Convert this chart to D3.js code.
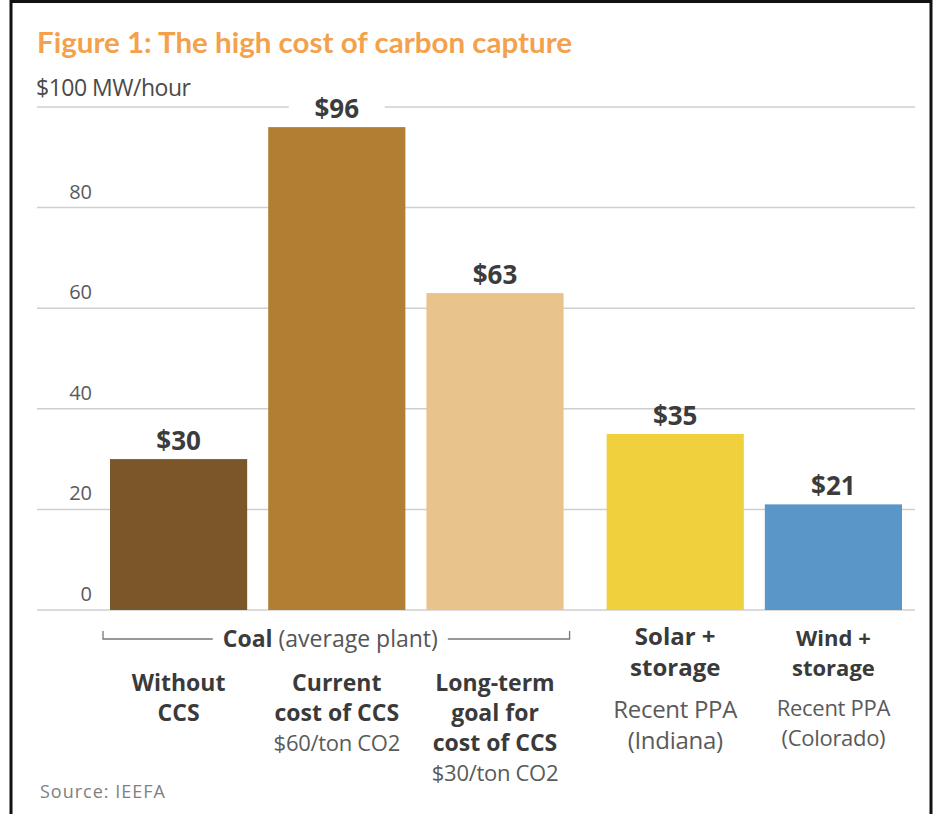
<!DOCTYPE html>
<html>
<head>
<meta charset="utf-8">
<script src="https://cdn.jsdelivr.net/npm/d3@7"></script>
<style>
  html, body { margin: 0; padding: 0; background: #fff; }
  svg { display: block; }
</style>
</head>
<body>
<div id="chart"></div>
<script>
// --- data ---
const categories = ["Without CCS", "Current cost of CCS", "Long-term goal for cost of CCS", "Solar + storage", "Wind + storage"];
const values = [30, 96, 63, 35, 21];
const groups = ["coal", "coal", "coal", "renew", "renew"];
const barColors = ["#7a5628", "#b07f34", "#e8c48c", "#f0d03c", "#5b96c9"];
const boldLines = [["Without", "CCS"], ["Current", "cost of CCS"], ["Long-term", "goal for", "cost of CCS"], ["Solar +", "storage"], ["Wind +", "storage"]];
const subLines = [[], ["$60/ton CO2"], ["$30/ton CO2"], ["Recent PPA", "(Indiana)"], ["Recent PPA", "(Colorado)"]];
const yTicks = [0, 20, 40, 60, 80];
const topTickLabel = "$100 MW/hour";
const title = "Figure 1: The high cost of carbon capture";
const source = "Source:  IEEFA";

(function () {
  const W = 934, H = 814;
  const font = "'Open Sans', Lato, sans-serif";

  const svg = d3.select("#chart").append("svg")
    .attr("width", W)
    .attr("height", H);

  svg.append("rect").attr("width", W).attr("height", H).attr("fill", "#fff");

  // frame
  svg.append("rect")
    .attr("x", 11).attr("y", 1.5)
    .attr("width", 920).attr("height", H + 20)
    .attr("fill", "none")
    .attr("stroke", "#111")
    .attr("stroke-width", 3);

  // title
  svg.append("text")
    .attr("x", 37).attr("y", 53)
    .attr("textLength", 535)
    .attr("lengthAdjust", "spacingAndGlyphs")
    .style("font-family", "Lato, sans-serif")
    .style("font-weight", "bold")
    .style("font-size", "29px")
    .style("fill", "#f4a14c")
    .text(title);

  // scales
  const groupGap = 22;
  const x = d3.scaleBand()
    .domain(categories)
    .range([110, 902 - groupGap])
    .paddingInner(0.133)
    .paddingOuter(0);
  const xPos = (c, i) => x(c) + (groups[i] === "renew" ? groupGap : 0);

  const y = d3.scaleLinear().domain([0, 100]).range([610, 107]);

  // gridlines
  const gridX0 = 37, gridX1 = 915;
  svg.append("g").selectAll("line")
    .data(yTicks.concat([100]))
    .join("line")
    .attr("x1", gridX0).attr("x2", gridX1)
    .attr("y1", d => y(d)).attr("y2", d => y(d))
    .attr("stroke", "#cfcfcf")
    .attr("stroke-width", 1.5);

  svg.append("g").selectAll("text")
    .data(yTicks)
    .join("text")
    .attr("x", 92)
    .attr("y", d => y(d) - 9)
    .attr("text-anchor", "end")
    .style("font-family", font)
    .style("font-size", "20px")
    .style("fill", "#5a5a5a")
    .text(d => d);

  svg.append("text")
    .attr("x", 36).attr("y", y(100) - 11)
    .style("font-family", font)
    .style("font-size", "23px")
    .style("letter-spacing", "-0.5px")
    .style("fill", "#4a4a4a")
    .text(topTickLabel);

  // bars
  const bars = svg.append("g").selectAll("g")
    .data(categories)
    .join("g");

  bars.append("rect")
    .attr("x", (d, i) => xPos(d, i))
    .attr("y", (d, i) => y(values[i]))
    .attr("width", x.bandwidth())
    .attr("height", (d, i) => y(0) - y(values[i]))
    .attr("fill", (d, i) => barColors[i]);

  // white backing behind the tallest label (breaks the top gridline)
  bars.append("rect")
    .attr("x", (d, i) => xPos(d, i) + x.bandwidth() / 2 - 48)
    .attr("y", (d, i) => y(values[i]) - 31)
    .attr("width", 96)
    .attr("height", 26)
    .attr("fill", (d, i) => values[i] > 90 ? "#fff" : "none");

  bars.append("text")
    .attr("x", (d, i) => xPos(d, i) + x.bandwidth() / 2)
    .attr("y", (d, i) => y(values[i]) - 9)
    .attr("text-anchor", "middle")
    .style("font-family", font)
    .style("font-weight", "bold")
    .style("font-size", "26px")
    .style("fill", "#3c3c3c")
    .text((d, i) => "$" + values[i]);

  // coal bracket
  const coalIdx = groups.map((g, i) => g === "coal" ? i : -1).filter(i => i >= 0);
  const bx0 = xPos(categories[coalIdx[0]], coalIdx[0]) - 7;
  const lastC = coalIdx[coalIdx.length - 1];
  const bx1 = xPos(categories[lastC], lastC) + x.bandwidth() + 6;
  const by = 639;
  const bracketText = svg.append("text")
    .attr("x", (bx0 + bx1) / 2 - 6)
    .attr("y", 647)
    .attr("text-anchor", "middle")
    .style("font-family", font)
    .style("font-size", "23px")
    .style("fill", "#3c3c3c");
  bracketText.append("tspan").style("font-weight", "bold").text("Coal");
  bracketText.append("tspan").style("fill", "#555").text(" (average plant)");
  const bb = bracketText.node().getBBox();
  svg.append("path")
    .attr("d", `M${bx0},${by - 8}V${by}H${bb.x - 10}M${bb.x + bb.width + 10},${by}H${bx1}V${by - 8}`)
    .attr("fill", "none")
    .attr("stroke", "#777")
    .attr("stroke-width", 1.3);

  // category labels
  const labelStyle = i => {
    if (groups[i] === "coal") return { bs: 23, ss: 22, start: 691, lh: 30, slh: 30, subGap: 0 };
    if (i === 3) return { bs: 24, ss: 24, start: 645, lh: 31, slh: 31, subGap: 11 };
    return { bs: 22, ss: 22, start: 646, lh: 30, slh: 30, subGap: 10 };
  };

  categories.forEach((c, i) => {
    const st = labelStyle(i);
    const cx = xPos(c, i) + x.bandwidth() / 2;
    let yy = st.start;
    boldLines[i].forEach(t => {
      svg.append("text")
        .attr("x", cx).attr("y", yy)
        .attr("text-anchor", "middle")
        .style("font-family", font)
        .style("font-weight", "bold")
        .style("font-size", st.bs + "px")
        .style("fill", "#3a3a3a")
        .text(t);
      yy += st.lh;
    });
    yy += st.subGap - st.lh + st.slh;
    subLines[i].forEach(t => {
      svg.append("text")
        .attr("x", cx).attr("y", yy)
        .attr("text-anchor", "middle")
        .style("font-family", font)
        .style("font-size", st.ss + "px")
        .style("letter-spacing", "-0.3px")
        .style("fill", "#5a5a5a")
        .text(t);
      yy += st.slh;
    });
  });

  // source
  svg.append("text")
    .attr("x", 40).attr("y", 798)
    .style("font-family", font)
    .style("font-size", "18px")
    .style("letter-spacing", "1px")
    .style("fill", "#808080")
    .text(source);
})();
</script>
</body>
</html>
